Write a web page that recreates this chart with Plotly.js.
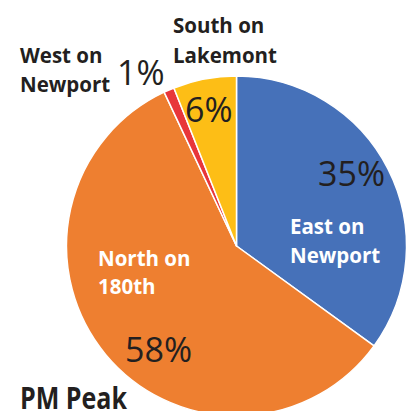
<!DOCTYPE html>
<html>
<head>
<meta charset="utf-8">
<script src="https://cdn.plot.ly/plotly-3.0.1.min.js"></script>
<style>
html, body { margin: 0; padding: 0; overflow: hidden; background: #fff; }
#chart { width: 416px; height: 416px; }
</style>
</head>
<body>
<div id="chart"></div>
<script>
// Data
var categories = ['East on<br>Newport', 'North on<br>180th', 'West on<br>Newport', 'South on<br>Lakemont'];
var shares = [35, 58, 1, 6];
var sliceColors = ['#4671B9', '#EE7F30', '#E8363A', '#FDBE16'];
var chartTitle = 'PM Peak';

var W = 416, H = 416;
function px(x) { return x / W; }
function py(y) { return 1 - y / H; }

var nameFont = "'Open Sans', 'Noto Sans', sans-serif";
var pctFont = "'Open Sans', 'Noto Sans', sans-serif";

// label placement (left x, cap-middle y of each line) and colour
var namePos = [
  { x: 289, y: [226, 255], color: '#FFFFFF' },
  { x: 97,  y: [258, 286], color: '#FFFFFF' },
  { x: 19,  y: [55, 84],   color: '#231F20' },
  { x: 172, y: [25.5, 55], color: '#231F20' }
];
var pctPos = [
  { x: 317, y: 172.5 },
  { x: 124, y: 349 },
  { x: 116, y: 71.5 },
  { x: 184, y: 109 }
];

var annotations = [];
categories.forEach(function (c, i) {
  var lines = c.split('<br>');
  lines.forEach(function (ln, j) {
    annotations.push({
      xref: 'paper', yref: 'paper', x: px(namePos[i].x), y: py(namePos[i].y[j]),
      xanchor: 'left', yanchor: 'middle', showarrow: false, text: '<b>' + ln + '</b>',
      font: { family: nameFont, size: 20.5, color: namePos[i].color }, borderpad: 0
    });
  });
  annotations.push({
    xref: 'paper', yref: 'paper', x: px(pctPos[i].x), y: py(pctPos[i].y),
    xanchor: 'left', yanchor: 'middle', showarrow: false, text: shares[i] + '%',
    font: { family: pctFont, size: 34, color: '#231F20' }, borderpad: 0
  });
});
annotations.push({
  xref: 'paper', yref: 'paper', x: px(19), y: py(397),
  xanchor: 'left', yanchor: 'middle', align: 'left', showarrow: false, text: '<b>' + chartTitle + '</b>',
  font: { family: "'Open Sans', sans-serif", size: 31, color: '#231F20' },
  borderpad: 0
});

var trace = {
  type: 'pie',
  labels: categories,
  values: shares,
  sort: false,
  direction: 'clockwise',
  rotation: 0,
  textinfo: 'none',
  hoverinfo: 'none',
  marker: { colors: sliceColors, line: { color: '#FFFFFF', width: 1.5 } },
  domain: { x: [px(66.5), px(406.5)], y: [py(416), py(76)] },
  showlegend: false
};

var layout = {
  width: W, height: H,
  margin: { l: 0, r: 0, t: 0, b: 0, pad: 0 },
  paper_bgcolor: '#FFFFFF',
  plot_bgcolor: '#FFFFFF',
  showlegend: false,
  annotations: annotations
};

Plotly.newPlot('chart', [trace], layout, { displayModeBar: false, staticPlot: true }).then(function () {
  // condense the title to mimic the condensed bold face of the original
  var texts = document.querySelectorAll('.annotation-text');
  texts.forEach(function (t) {
    if (t.textContent === chartTitle) {
      t.setAttribute('textLength', '107');
      t.setAttribute('lengthAdjust', 'spacingAndGlyphs');
    }
  });
});
</script>
</body>
</html>
